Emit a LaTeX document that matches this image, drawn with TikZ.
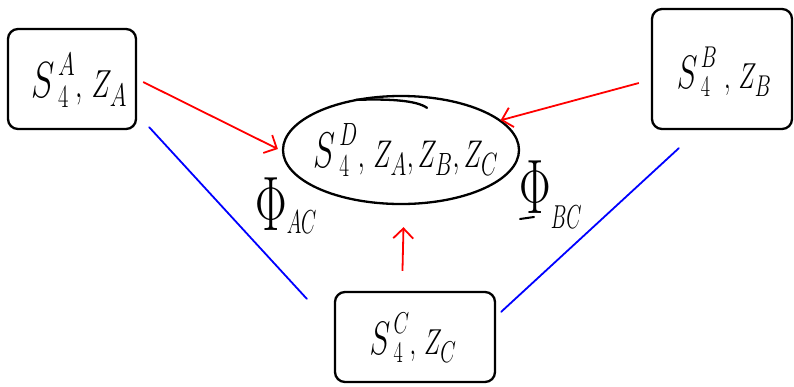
\documentclass[tikz,border=0pt]{standalone}
\usetikzlibrary{arrows.meta,shapes.geometric,calc}
% #1: horizontal factor, #2: vertical factor, #3: formula
\newcommand{\penmath}[3]{\scalebox{#1}[#2]{$#3$}}
\newcommand{\bigS}{\mbox{\scalebox{1.3}{$S$}}}
% a tall Phi with its index set lower by #1
\newcommand{\mapsym}[2]{\scalebox{1.9}[3.1]{$\Phi$}\raisebox{#1}{\scalebox{0.95}[1.6]{$\scriptstyle #2$}}}
\begin{document}
\begin{tikzpicture}[x=1pt,y=-1pt,
  frame/.style={draw=black, line width=2.3pt, rounded corners=10pt, inner sep=0pt},
  lab/.style={font=\Huge, inner sep=0pt},
  feed/.style={draw=red, line width=1.8pt,
    -{Straight Barb[length=10pt,width=20pt,line width=1.8pt]}},
  link/.style={draw=blue, line width=1.8pt, line cap=round},
  mapname/.style={font=\Huge, inner sep=0pt, anchor=base west}]
\useasboundingbox (0,0) rectangle (794,386);

% the three local pieces
\node[frame, minimum width=128pt, minimum height=100pt] (A) at (72,79) {};
\node[lab] (Atext) at (79,80)
  {\penmath{1.09}{1.57}{\bigS^{\,A}_{\,4},\,Z_{A}}};
\node[frame, minimum width=140pt, minimum height=120pt] (B) at (722,69) {};
\node[lab] (Btext) at (724,72)
  {\penmath{0.97}{1.45}{\bigS^{\,B}_{\,4}\;,\,Z_{B}}};
\node[frame, minimum width=160pt, minimum height=90pt] (C) at (415,337) {};
\node[lab] (Ctext) at (413,338)
  {\penmath{0.97}{1.45}{\bigS^{\,C}_{\,4},\,Z_{C}}};

% the glued whole
\node[ellipse, draw=black, line width=2.3pt, minimum width=236pt,
  minimum height=108pt, inner sep=0pt] (D) at (401,150) {};
\node[lab] (Dtext) at (406,150)
  {\penmath{1.03}{1.55}{\bigS^{\,D}_{\,4},\,Z_{A},Z_{B},Z_{C}}};
\draw[line width=2.3pt, line cap=round]
  ([shift={(-45,5)}]D.north) .. controls ([shift={(-15,4)}]D.north)
  and ([shift={(15,5)}]D.north) .. ([shift={(26,13)}]D.north);

% maps into the whole
\draw[feed] ([shift={(6,3)}]A.east) -- ([shift={(-4,-1)}]D.west);
\draw[feed] ([shift={(-12,14)}]B.west) -- ([shift={(2,2)}]D.18);
\draw[feed, shorten <=20pt, shorten >=22pt] ([xshift=-13]C.north) -- ([xshift=3]D.south);

% links between the pieces
\draw[link] ([shift={(12,-3)}]A.south east) -- ([shift={(-27,8)}]C.north west);
\draw[link] ([shift={(5,21)}]C.north east) -- ([shift={(28,18)}]B.south west);

% labels of the links
\node[mapname] (phiAC) at (255,230) {\mapsym{-3pt}{AC}};
\node[mapname] (phiBC) at (519,213) {\mapsym{-15pt}{BC}};
\draw[line width=2pt, line cap=round]
  ([shift={(1,6)}]phiBC.base west) -- ([shift={(15,4)}]phiBC.base west);
\end{tikzpicture}
\end{document}
